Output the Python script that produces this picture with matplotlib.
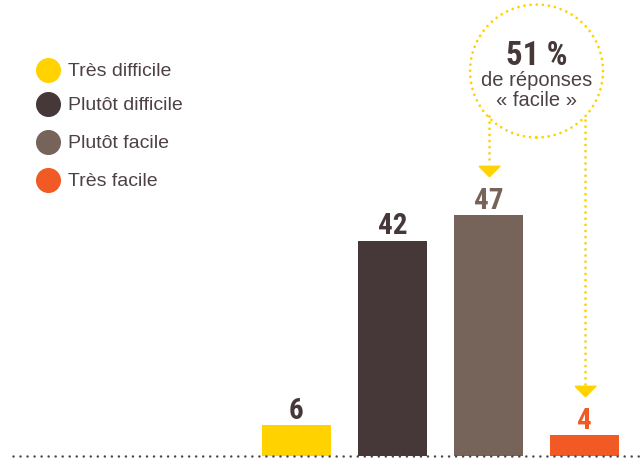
import matplotlib.pyplot as plt
from matplotlib.patches import Ellipse
from matplotlib.lines import Line2D

categories = ['Très difficile', 'Plutôt difficile', 'Plutôt facile', 'Très facile']
values = [6, 42, 47, 4]
colors = ['#ffd200', '#463839', '#76635a', '#f15a24']
label_colors = ['#463839', '#463839', '#76635a', '#f15a24']
share_text = '51 %'
share_sub = ['de réponses', '« facile »']

W, H = 644, 460
fig = plt.figure(figsize=(W / 100, H / 100), dpi=100)
ax = fig.add_axes([0, 0, 1, 1])
ax.set_axis_off()

# pixel layout -> data limits
x0_px, step_px = 296.5, 96.0
base_px, unit_px = 457.0, 5.13
ax.set_xlim(-x0_px / step_px, (W - x0_px) / step_px)
ax.set_ylim(-(H - base_px) / unit_px, base_px / unit_px)

xs = list(range(len(values)))
ax.bar(xs, values, width=69 / step_px, color=colors, zorder=2)

num_font = ['Roboto Condensed', 'DejaVu Sans']
txt_font = ['Liberation Sans', 'DejaVu Sans']
for x, v, c in zip(xs, values, label_colors):
    ax.text(x, v + 1.4, str(v), ha='center', va='baseline', fontsize=21,
            fontweight='bold', color=c, family=num_font)

# dotted baseline
ax.plot([(13 - x0_px) / step_px, (W - x0_px) / step_px], [0, 0],
        color='#4f4345', lw=1.8, linestyle=(0, (0.01, 2.8)),
        dash_capstyle='round', zorder=3)

# legend
text_col = '#4d4144'
leg_y = [71, 105, 143, 181]
for lab, c, py in zip(categories, colors, leg_y):
    fig.add_artist(Line2D([48 / W], [1 - py / H], marker='o', markersize=17,
                          color=c, linestyle='none'))
    fig.text(68 / W, 1 - py / H, lab, ha='left', va='center', fontsize=14,
             color=text_col, family=txt_font)

# dotted circle annotation
yel = '#ffd200'
cx, cy, r = 536.5, 72, 66.5
fig.add_artist(Ellipse((cx / W, 1 - cy / H), 2 * r / W, 2 * r / H,
                       transform=fig.transFigure, fill=False, edgecolor=yel,
                       lw=2.0, linestyle=(0, (0.01, 2.2)), capstyle='round'))
fig.text(cx / W, 1 - 65 / H, share_text, ha='center', va='baseline', fontsize=23.5,
         fontweight='bold', color='#463839', family=num_font)
fig.text(cx / W, 1 - 80 / H, share_sub[0], ha='center', va='center',
         fontsize=14.5, color=text_col, family=txt_font)
fig.text(cx / W, 1 - 101 / H, share_sub[1], ha='center', va='center',
         fontsize=14.5, color=text_col, family=txt_font)

# arrows from circle to the "facile" bars
tri = [(-1, 0.5), (1, 0.5), (0, -0.5), (-1, 0.5)]
arrows = [(2, 117, 165, 172), (3, 121, 386, 392)]
for i, y_start, y_end, y_tri in arrows:
    v0 = (base_px - y_start) / unit_px
    v1 = (base_px - y_end) / unit_px
    ax.plot([i, i], [v0, v1], color=yel, lw=2.0, linestyle=(0, (0.01, 2.2)),
            dash_capstyle='round', zorder=3)
    ax.plot([i], [(base_px - y_tri) / unit_px], marker=tri, markersize=15,
            color=yel, linestyle='none', zorder=3)

fig.savefig('out.png', dpi=100)
